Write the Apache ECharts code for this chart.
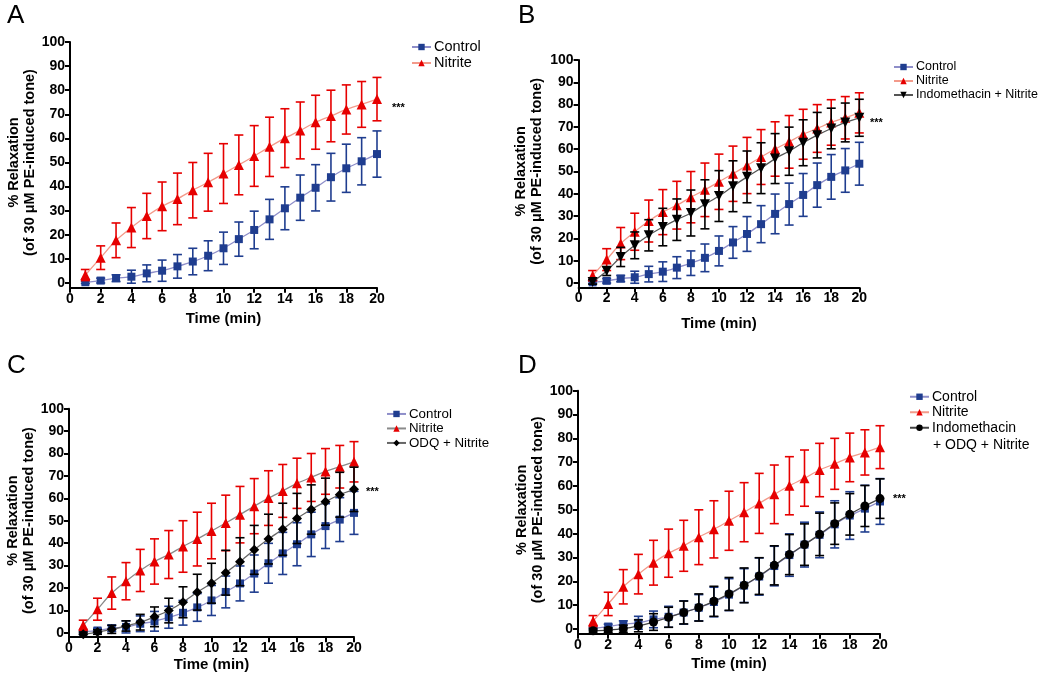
<!DOCTYPE html>
<html>
<head>
<meta charset="utf-8">
<script src="https://cdn.jsdelivr.net/npm/echarts@6/dist/echarts.min.js"></script>
<style>
  html, body { margin: 0; padding: 0; background: #fff; }
  #chart { width: 1039px; height: 679px; }
</style>
</head>
<body>
<div id="chart"></div>
<script>
// data (mean and SEM, % relaxation)
var time = [1, 2, 3, 4, 5, 6, 7, 8, 9, 10, 11, 12, 13, 14, 15, 16, 17, 18, 19, 20];
var xTicks = [0, 2, 4, 6, 8, 10, 12, 14, 16, 18, 20];
var yTicks = [0, 10, 20, 30, 40, 50, 60, 70, 80, 90, 100];

var controlMean = [0.3, 1, 2, 2.6, 4, 5.1, 6.9, 8.9, 11.3, 14.4, 18.2, 22, 26.4, 31, 35.4, 39.5, 43.9, 47.6, 50.5, 53.5];
var controlSem = [0.5, 1, 1.4, 2.7, 3.5, 4.4, 4.9, 5.5, 6.2, 6.7, 7.1, 7.8, 8.3, 8.9, 9.4, 9.6, 9.9, 10, 9.8, 9.6];
var nitriteMean = [3.3, 10.5, 17.7, 23, 27.8, 31.8, 34.9, 38.5, 41.8, 45.4, 49, 52.7, 56.5, 60.1, 63.3, 66.7, 69.3, 72, 74.1, 76.3];
var nitriteSem = [2.3, 4.9, 7.2, 8.3, 9.4, 10.1, 10.7, 11.5, 12, 12.4, 12.4, 12.6, 12.3, 12.2, 11.8, 11.2, 10.7, 10.2, 9.5, 9];
var indoNitriteMean = [0.5, 5.4, 11.7, 16.9, 21.4, 25.1, 28.4, 31.4, 35.3, 39, 43.4, 47.6, 51.5, 55.8, 59.1, 62.9, 66.3, 69.3, 72, 74.1];
var indoNitriteSem = [1, 2, 4.3, 6, 7, 8.4, 9.3, 10.3, 11, 11.4, 11.4, 11.6, 11.4, 11.2, 10.8, 10.3, 10.2, 9.1, 8.7, 8.3];
var odqNitriteMean = [-0.7, 0.3, 1.5, 3, 4.7, 7.1, 9.9, 13.6, 18.1, 22.1, 26.8, 31.7, 37, 41.8, 46.2, 51, 55, 58.5, 61.6, 64];
var odqNitriteSem = [1, 1, 1.8, 2.3, 3.5, 4.4, 5.5, 6.9, 8, 8.9, 10, 10.7, 10.9, 11.1, 11.6, 11.2, 11, 10.5, 10, 9.9];
var indoOdqNitriteMean = [-0.8, -0.5, 0.1, 1.3, 2.9, 4.9, 6.9, 9, 11.6, 14.7, 18.3, 22.2, 26.7, 31.2, 35.4, 39.7, 44.2, 48.1, 51.6, 54.7];
var indoOdqNitriteSem = [1, 1, 1.5, 2.5, 3.5, 4.2, 4.8, 5.7, 6.3, 6.9, 7.3, 7.7, 8.2, 8.4, 8.7, 8.9, 8.7, 8.7, 8.6, 8.3];

var FONT = '"Liberation Sans", Arial, sans-serif';

// how each group is drawn
var groups = {
    control: { label: 'Control', mean: controlMean, sem: controlSem, symbol: 'rect', size: 8, rotate: 0, color: '#1f3d8f', line: '#8e8ec9' },
    nitrite: { label: 'Nitrite', mean: nitriteMean, sem: nitriteSem, symbol: 'triangle', size: 10, rotate: 0, color: '#e60000', line: '#f39a8a' },
    indoNitrite: { label: 'Indomethacin + Nitrite', mean: indoNitriteMean, sem: indoNitriteSem, symbol: 'triangle', size: 10, rotate: 180, color: '#000', line: '#555' },
    odqNitrite: { label: 'ODQ + Nitrite', mean: odqNitriteMean, sem: odqNitriteSem, symbol: 'diamond', size: 10, rotate: 0, color: '#000', line: '#555' },
    indoOdqNitrite: { label: 'Indomethacin + ODQ + Nitrite', mean: indoOdqNitriteMean, sem: indoOdqNitriteSem, symbol: 'circle', size: 9, rotate: 0, color: '#000', line: '#444' }
};

// layout of the four panels
var panels = [
    { letter: 'A', letterPos: [7, 3], grid: { left: 70, top: 42, width: 307, height: 245.8 }, keys: ['control', 'nitrite'], nameGap: 24,
      legend: { left: 411, top: 39, fontSize: 14.5, lineHeight: 16 }, stars: [392, 108], ytitleX: 14 },
    { letter: 'B', letterPos: [518, 3], grid: { left: 578.6, top: 60, width: 280.7, height: 227.5 }, keys: ['control', 'nitrite', 'indoNitrite'], nameGap: 29,
      legend: { left: 893, top: 60, fontSize: 12.5, lineHeight: 14 }, stars: [870, 123], ytitleX: 521 },
    { letter: 'C', letterPos: [7, 353], grid: { left: 69, top: 408.7, width: 285, height: 228.5 }, keys: ['control', 'nitrite', 'odqNitrite'], nameGap: 20,
      legend: { left: 386, top: 406.7, fontSize: 13.3, lineHeight: 14.5 }, stars: [366, 492], ytitleX: 13,
      lineOverride: { nitrite: '#8a8a8a', odqNitrite: '#666' } },
    { letter: 'D', letterPos: [518, 353], grid: { left: 578, top: 390.7, width: 302, height: 243 }, keys: ['control', 'nitrite', 'indoOdqNitrite'], nameGap: 23,
      legend: { left: 909, top: 389, fontSize: 14, lineHeight: 15.5 }, stars: [893, 499], ytitleX: 522 }
];

function errRenderer(color, capW) {
    return function (params, api) {
        var x = api.value(0), m = api.value(1), e = api.value(2);
        var hi = api.coord([x, m + e]);
        var lo = api.coord([x, m - e]);
        var st = { stroke: color, lineWidth: 1.6 };
        var h = capW / 2;
        return {
            type: 'group',
            children: [
                { type: 'line', shape: { x1: hi[0], y1: hi[1], x2: lo[0], y2: lo[1] }, style: st },
                { type: 'line', shape: { x1: hi[0] - h, y1: hi[1], x2: hi[0] + h, y2: hi[1] }, style: st },
                { type: 'line', shape: { x1: lo[0] - h, y1: lo[1], x2: lo[0] + h, y2: lo[1] }, style: st }
            ]
        };
    };
}

var grids = [], xAxes = [], yAxes = [], series = [], legends = [], graphics = [];

panels.forEach(function (p, i) {
    grids.push(p.grid);

    xAxes.push({
        gridIndex: i, type: 'value', min: 0, max: 20, interval: 2,
        axisLine: { onZero: false, lineStyle: { color: '#000', width: 2 } },
        axisTick: { length: 5, lineStyle: { color: '#000', width: 2 } },
        axisLabel: { color: '#000', fontFamily: FONT, fontWeight: 'bold', fontSize: 14, margin: 4 },
        splitLine: { show: false },
        name: 'Time (min)', nameLocation: 'middle', nameGap: p.nameGap,
        nameTextStyle: { color: '#000', fontFamily: FONT, fontWeight: 'bold', fontSize: 15 }
    });

    yAxes.push({
        gridIndex: i, type: 'value', min: -2, max: 100,
        axisLine: { show: true, onZero: false, lineStyle: { color: '#000', width: 2 } },
        axisTick: { show: true, length: 5, customValues: yTicks, lineStyle: { color: '#000', width: 2 } },
        axisLabel: { show: true, customValues: yTicks, color: '#000', fontFamily: FONT, fontWeight: 'bold', fontSize: 14, margin: 5 },
        splitLine: { show: false }
    });

    var names = [];
    p.keys.forEach(function (k, j) {
        var g = groups[k];
        var lineColor = (p.lineOverride && p.lineOverride[k]) || g.line;
        var name = g.label + ' '.repeat(i);
        names.push(name);
        series.push({
            type: 'custom', name: 'err ' + k + i, xAxisIndex: i, yAxisIndex: i,
            renderItem: errRenderer(g.color, 9), clip: false, z: 2 + j * 2,
            encode: { x: 0, y: 1 },
            data: time.map(function (t, n) { return [t, g.mean[n], g.sem[n]]; })
        });
        series.push({
            type: 'line', name: name, xAxisIndex: i, yAxisIndex: i,
            symbol: g.symbol, symbolSize: g.size, symbolRotate: g.rotate,
            smooth: 0.3, z: 3 + j * 2,
            itemStyle: { color: g.color, opacity: 1 },
            lineStyle: { color: lineColor, width: 1.3 },
            data: time.map(function (t, n) { return [t, g.mean[n]]; })
        });
    });

    legends.push({
        orient: 'vertical', left: p.legend.left, top: p.legend.top, padding: 0,
        itemWidth: 19, itemHeight: 8, itemGap: 0,
        data: names,
        formatter: function (n) {
            n = n.trim();
            return n === 'Indomethacin + ODQ + Nitrite' ? 'Indomethacin' : n;
        },
        textStyle: { color: '#000', fontFamily: FONT, fontSize: p.legend.fontSize, lineHeight: p.legend.lineHeight, padding: [0, 0, 0, -2] },
        selectedMode: false
    });

    // panel letter
    graphics.push({ type: 'text', left: p.letterPos[0], top: p.letterPos[1],
        style: { text: p.letter, font: 'normal 26px ' + FONT, fill: '#000' } });

    // y axis title, two rotated lines
    var cy = p.grid.top + (p.grid.height - 4.8) / 2;
    graphics.push({ type: 'text', x: p.ytitleX, y: cy, rotation: Math.PI / 2,
        style: { text: '% Relaxation', font: 'bold 14.5px ' + FONT, fill: '#000', align: 'center', verticalAlign: 'middle' } });
    graphics.push({ type: 'text', x: p.ytitleX + 16, y: cy, rotation: Math.PI / 2,
        style: { text: '(of 30 \u03bcM PE-induced tone)', font: 'bold 14.5px ' + FONT, fill: '#000', align: 'center', verticalAlign: 'middle' } });

    // significance marker
    graphics.push({ type: 'text', x: p.stars[0], y: p.stars[1],
        style: { text: '***', font: 'bold 11px ' + FONT, fill: '#000', align: 'left', verticalAlign: 'middle' } });
});

// second line of the legend entry in panel D
graphics.push({ type: 'text', x: 933, y: 445,
    style: { text: '+ ODQ + Nitrite', font: 'normal 14px ' + FONT, fill: '#000', align: 'left', verticalAlign: 'middle' } });

var chart = echarts.init(document.getElementById('chart'));
chart.setOption({
    animation: false,
    backgroundColor: '#fff',
    grid: grids,
    xAxis: xAxes,
    yAxis: yAxes,
    legend: legends,
    graphic: graphics,
    series: series
});
</script>
</body>
</html>
